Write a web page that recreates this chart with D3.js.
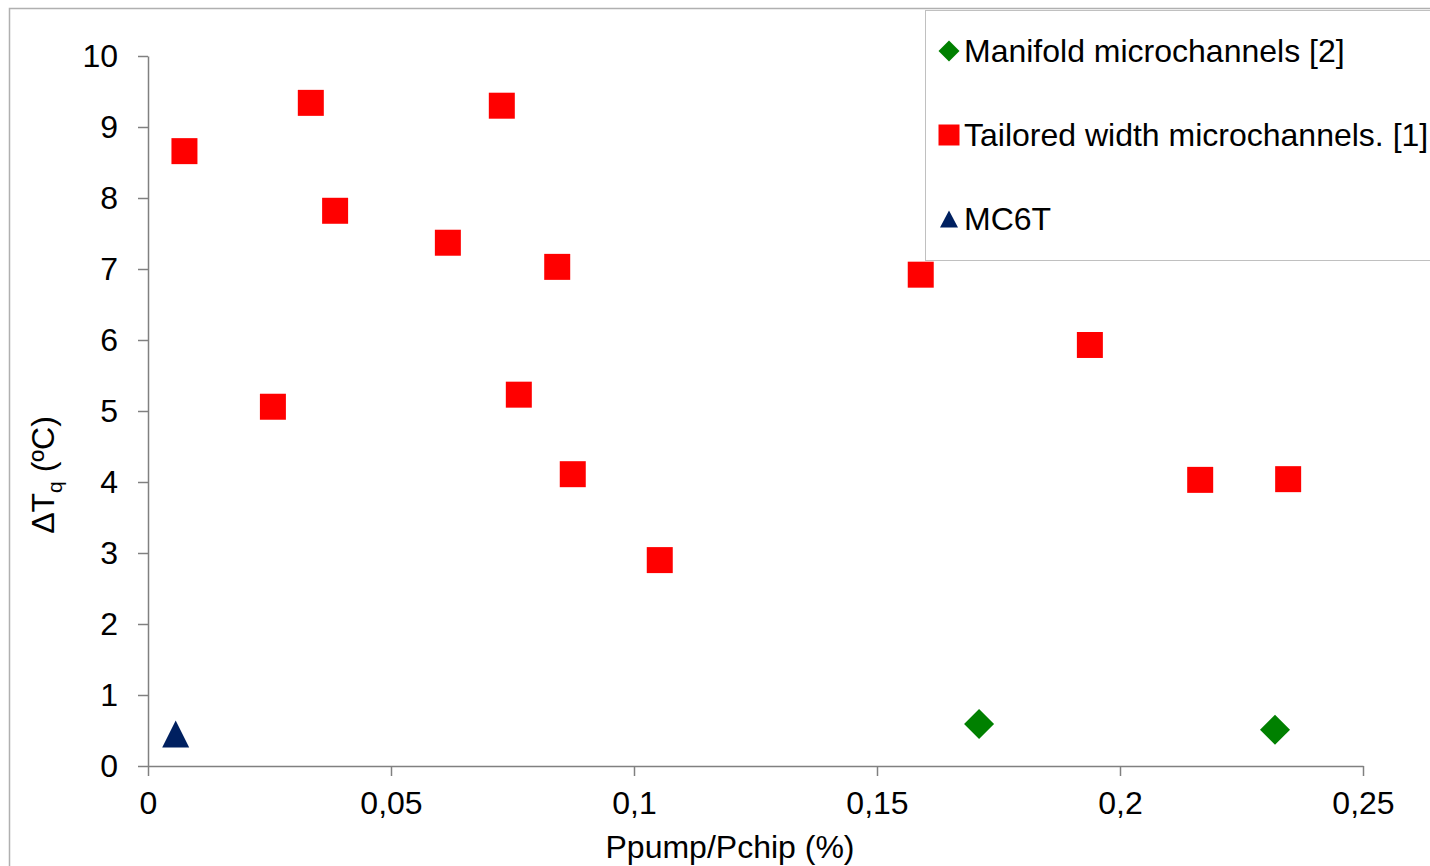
<!DOCTYPE html>
<html>
<head>
<meta charset="utf-8">
<script src="https://cdn.jsdelivr.net/npm/d3@7"></script>
<style>
  body { margin: 0; background: #fff; }
  svg { font-family: "Liberation Sans", Arial, sans-serif; }
</style>
</head>
<body>
<svg id="chart" width="1430" height="866"></svg>
<script>
// series data
const manifoldX = [0.171, 0.2319];
const manifoldY = [0.59, 0.51];

const tailoredX = [0.0075, 0.0335, 0.0728, 0.0385, 0.0617, 0.0842, 0.0257, 0.0763, 0.0874, 0.1053, 0.159, 0.1938, 0.2165, 0.2346];
const tailoredY = [8.66, 9.34, 9.30, 7.82, 7.37, 7.03, 5.06, 5.23, 4.11, 2.90, 6.92, 5.93, 4.03, 4.04];

const mc6tX = [0.0057];
const mc6tY = [0.45];

const xTicks = [0, 0.05, 0.1, 0.15, 0.2, 0.25];
const yTicks = [0, 1, 2, 3, 4, 5, 6, 7, 8, 9, 10];

const seriesNames = ["Manifold microchannels [2]", "Tailored width microchannels. [1]", "MC6T"];

const svg = d3.select("#chart");

// outer frame
svg.append("rect")
  .attr("x", 9.5).attr("y", 8.5)
  .attr("width", 1440).attr("height", 880)
  .attr("fill", "none").attr("stroke", "#b0b0b0").attr("stroke-width", 1.5);

const margin = { left: 148, top: 56, right: 1363, bottom: 766 };

const x = d3.scaleLinear().domain([0, 0.25]).range([margin.left, margin.right]);
const y = d3.scaleLinear().domain([0, 10]).range([margin.bottom, margin.top]);

const fmt = d => String(d).replace(".", ",");

// x axis
const xAxis = svg.append("g")
  .attr("transform", `translate(0,${margin.bottom})`)
  .call(d3.axisBottom(x).tickValues(xTicks).tickFormat(fmt).tickSize(10).tickSizeOuter(0).tickPadding(15));
xAxis.select(".domain").attr("stroke", "#808080").attr("stroke-width", 1.5);
xAxis.selectAll(".tick line").attr("stroke", "#808080").attr("stroke-width", 1.5);
xAxis.selectAll("text").attr("font-size", 32).attr("fill", "#000").attr("font-family", "Liberation Sans, Arial, sans-serif");

// y axis
const yAxis = svg.append("g")
  .attr("transform", `translate(${margin.left},0)`)
  .call(d3.axisLeft(y).tickValues(yTicks).tickSize(10).tickSizeOuter(0).tickPadding(20));
yAxis.select(".domain").attr("stroke", "#808080").attr("stroke-width", 1.5);
yAxis.selectAll(".tick line").attr("stroke", "#808080").attr("stroke-width", 1.5);
yAxis.selectAll("text").attr("font-size", 32).attr("fill", "#000").attr("font-family", "Liberation Sans, Arial, sans-serif");

// axis titles
svg.append("text")
  .attr("x", 730)
  .attr("y", 858)
  .attr("text-anchor", "middle")
  .attr("font-size", 32)
  .text("Ppump/Pchip (%)");

const yTitle = svg.append("text")
  .attr("transform", "translate(54,475) rotate(-90)")
  .attr("text-anchor", "middle")
  .attr("font-size", 32);
yTitle.append("tspan").text("ΔT");
yTitle.append("tspan").attr("font-size", 21).attr("dy", 8).text("q");
yTitle.append("tspan").attr("dy", -8).text(" (ºC)");

// triangle as tall as it is wide, like the original marker
const triType = (w, h) => ({
  draw(ctx) {
    ctx.moveTo(0, -h / 2);
    ctx.lineTo(w / 2, h / 2);
    ctx.lineTo(-w / 2, h / 2);
    ctx.closePath();
  }
});

// marks
const square = d3.symbol().type(d3.symbolSquare).size(26 * 26);
const diamond = d3.symbol().type(d3.symbolDiamond2).size(574);
const triangle = d3.symbol().type(triType(27, 27));

svg.append("g").selectAll("path")
  .data(tailoredX.map((v, i) => [v, tailoredY[i]]))
  .join("path")
  .attr("transform", d => `translate(${x(d[0])},${y(d[1])})`)
  .attr("d", square)
  .attr("fill", "#ff0000");

svg.append("g").selectAll("path")
  .data(manifoldX.map((v, i) => [v, manifoldY[i]]))
  .join("path")
  .attr("transform", d => `translate(${x(d[0])},${y(d[1])})`)
  .attr("d", diamond)
  .attr("fill", "#008000");

svg.append("g").selectAll("path")
  .data(mc6tX.map((v, i) => [v, mc6tY[i]]))
  .join("path")
  .attr("transform", d => `translate(${x(d[0])},${y(d[1])})`)
  .attr("d", triangle)
  .attr("fill", "#002060");

// legend
const legend = svg.append("g");
legend.append("rect")
  .attr("x", 925.5).attr("y", 10.5)
  .attr("width", 520).attr("height", 250)
  .attr("fill", "#fff").attr("stroke", "#c0c0c0").attr("stroke-width", 1);

const legendMarks = [
  { shape: d3.symbol().type(d3.symbolDiamond2).size(281), fill: "#008000" },
  { shape: d3.symbol().type(d3.symbolSquare).size(21 * 21), fill: "#ff0000" },
  { shape: d3.symbol().type(triType(18, 17)), fill: "#002060" }
];
const rowY = [51, 135, 219];

seriesNames.forEach((name, i) => {
  legend.append("path")
    .attr("transform", `translate(949,${rowY[i]})`)
    .attr("d", legendMarks[i].shape)
    .attr("fill", legendMarks[i].fill);
  legend.append("text")
    .attr("x", 964)
    .attr("y", rowY[i] + 11)
    .attr("font-size", 32)
    .text(name);
});
</script>
</body>
</html>
